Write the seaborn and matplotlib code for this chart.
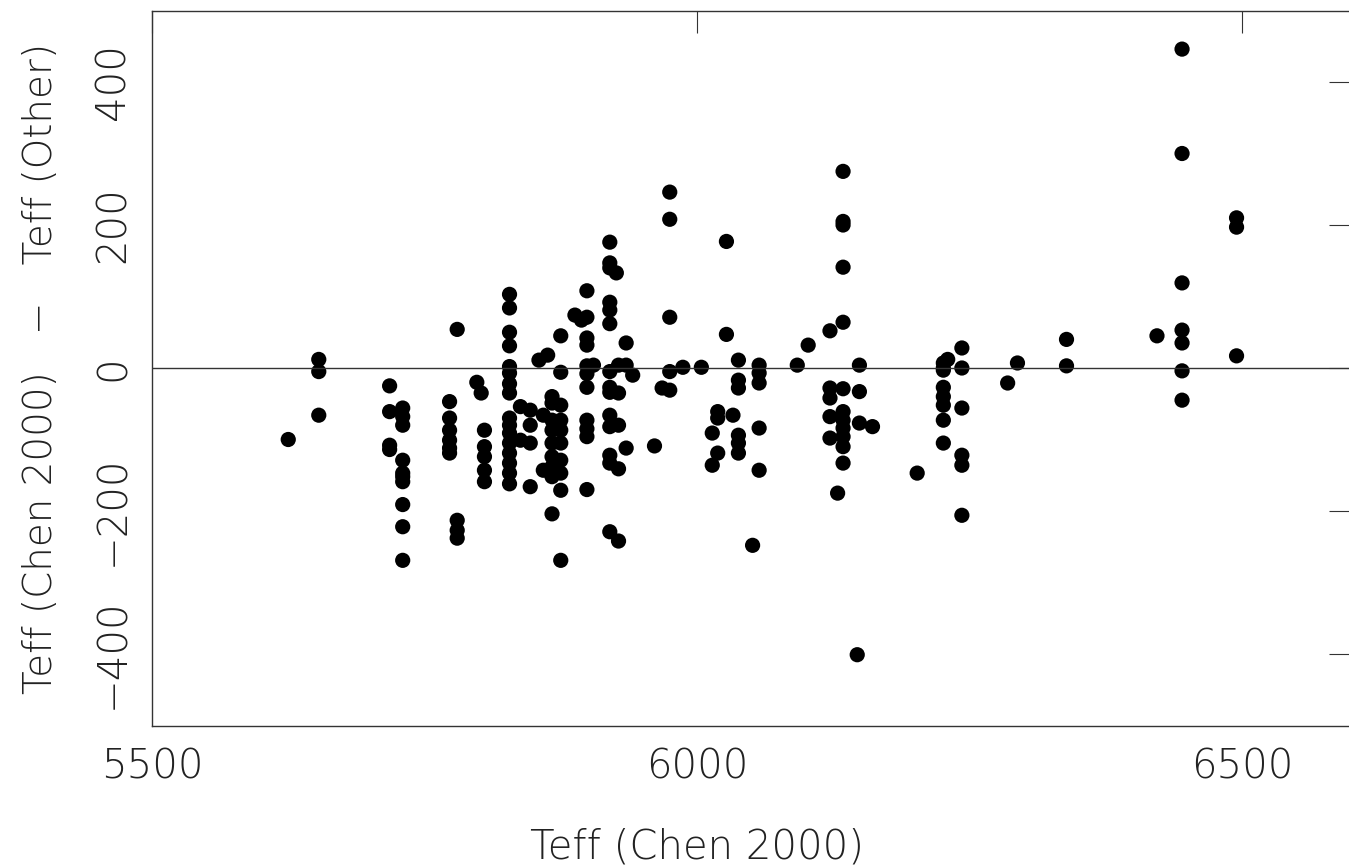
import matplotlib
matplotlib.use("Agg")
import matplotlib.pyplot as plt
import seaborn as sns
import pandas as pd

# x value of each vertical group of stars and the offsets measured at it
group_teff = [5625, 5653, 5718, 5730, 5773, 5780, 5798, 5802, 5805, 5828,
              5838, 5847, 5855, 5859, 5863, 5867, 5875, 5888, 5894, 5899,
              5905, 5920, 5926, 5928, 5935, 5941, 5961, 5968, 5975, 5987,
              6004, 6014, 6019, 6027, 6033, 6038, 6051, 6057, 6092, 6102,
              6122, 6129, 6134, 6147, 6149, 6161, 6202, 6226, 6230, 6243,
              6285, 6294, 6339, 6422, 6445, 6495]
group_diff = [
    [-100],
    [12, -5, -66],
    [-25, -61, -108, -114],
    [-56, -68, -80, -129, -147, -152, -159, -191, -222, -269],
    [-47, -70, -87, -101, -112, -119],
    [54, -213, -227, -238],
    [-20],
    [-35],
    [-87, -110, -124, -143, -159],
    [103, 84, 50, 31, 2, -7, -22, -35, -70, -80, -91, -105, -119, -133, -147, -162],
    [-54, -101],
    [-59, -80, -105, -166],
    [11],
    [-66, -143],
    [18],
    [-40, -49, -73, -87, -105, -124, -138, -152, -204],
    [45, -6, -52, -73, -87, -105, -129, -147, -171, -269],
    [74],
    [67],
    [108, 71, 42, 32, 3, -8, -27, -73, -85, -96, -170],
    [4],
    [176, 147, 140, 92, 81, 62, -5, -27, -34, -66, -82, -122, -133, -229],
    [133],
    [4, -35, -80, -141, -242],
    [35, 4, -112],
    [-10],
    [-109],
    [-28],
    [246, 208, 71, -5, -31],
    [1],
    [1],
    [-91, -136],
    [-61, -70, -119],
    [177, 47],
    [-66],
    [11, -17, -28, -94, -105, -119],
    [-248],
    [4, -7, -21, -84, -143],
    [4],
    [32],
    [52, -28, -42, -68, -98],
    [-175],
    [275, 205, 200, 141, 64, -29, -61, -73, -84, -96, -110, -133],
    [-401],
    [4, -33, -77],
    [-82],
    [-147],
    [7, -3, 0, -27, -40, -52, -73, -105],
    [12],
    [28, 0, -56, -122, -136, -206],
    [-21],
    [7],
    [40, 3],
    [45],
    [446, 300, 119, 53, 35, -4, -45],
    [210, 197, 17],
]

x_ticks = [5500, 6000, 6500]
y_ticks = [-400, -200, 0, 200, 400]
x_label = "Teff (Chen 2000)"
y_label = "Teff (Chen 2000)   \u2212   Teff (Other)"

rows = []
for t, diffs in zip(group_teff, group_diff):
    for d in diffs:
        rows.append((t, d))
df = pd.DataFrame(rows, columns=["teff", "diff"])

sns.set_theme(style="white")
plt.rcParams["font.family"] = ["DejaVu Sans"]

W, H = 1349, 866
fig = plt.figure(figsize=(W / 100, H / 100), dpi=100)
left, bottom = 152 / W, 1 - 725.5 / H
width, height = 1199 / W, 715 / H
ax = fig.add_axes([left, bottom, width, height])

sns.scatterplot(data=df, x="teff", y="diff", ax=ax, color="black",
                s=120, edgecolor="none", linewidth=0, legend=False)

ax.axhline(0, color="#333333", lw=1.0, zorder=1)
ax.set_xlim(5500, 6600)
ax.set_ylim(-500, 500)
ax.set_xticks(x_ticks)
ax.set_yticks(y_ticks)
ax.set_xticklabels([str(v) for v in x_ticks])
ax.set_yticklabels([str(v).replace("-", "\u2212") for v in y_ticks],
                   rotation=90, va="center")

ax.tick_params(axis="both", which="major", direction="in", length=16,
               width=0.8, color="#333333", top=True, right=True,
               labelsize=29, labelcolor="#222222")
ax.tick_params(axis="x", pad=16)
ax.tick_params(axis="y", pad=14)
for lab in ax.get_xticklabels() + ax.get_yticklabels():
    lab.set_fontweight("light")

for sp in ax.spines.values():
    sp.set_color("#333333")
    sp.set_linewidth(1.0)

ax.set_xlabel(x_label, fontsize=29, color="#222222", fontweight="light")
ax.set_ylabel(y_label, fontsize=28, color="#222222", fontweight="light")
ax.xaxis.set_label_coords((697 - 152) / 1199, -0.142)
ax.yaxis.set_label_coords(-0.077, 0.5)

fig.savefig("out.png", dpi=100, facecolor="white")
